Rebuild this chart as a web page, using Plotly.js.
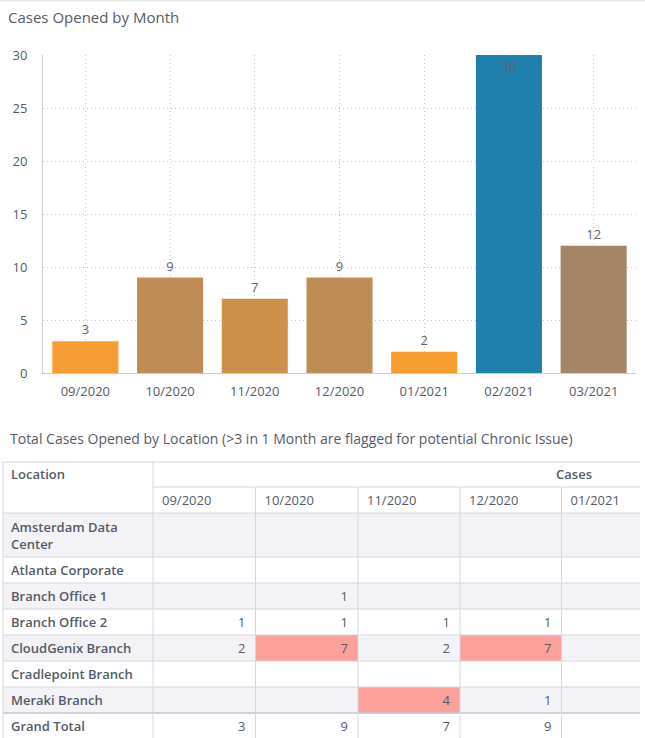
<!DOCTYPE html>
<html><head><meta charset="utf-8">
<script src="https://cdn.plot.ly/plotly-3.0.1.min.js"></script>
<style>html,body{margin:0;padding:0;background:#fff}#chart{width:645px;height:738px}</style>
</head><body><div id="chart"></div>
<script>
// ---------- data: bar chart ----------
const months = ['09/2020','10/2020','11/2020','12/2020','01/2021','02/2021','03/2021'];
const caseCounts = [3, 9, 7, 9, 2, 30, 12];
const barColors = ['#f59c33','#c08c55','#cc914b','#c08c55','#f89c2c','#1f80b0','#a48566'];

// ---------- data: table ----------
const tableMonths = ['09/2020','10/2020','11/2020','12/2020','01/2021'];
const locations = ['Amsterdam Data<br>Center','Atlanta Corporate','Branch Office 1','Branch Office 2','CloudGenix Branch','Cradlepoint Branch','Meraki Branch'];
const amsterdamCases   = [null, null, null, null, null];
const atlantaCases     = [null, null, null, null, null];
const branch1Cases     = [null, 1, null, null, null];
const branch2Cases     = [1, 1, 1, 1, null];
const cloudgenixCases  = [2, 7, 2, 7, null];
const cradlepointCases = [null, null, null, null, null];
const merakiCases      = [null, null, 4, 1, null];
const grandTotal       = [3, 9, 7, 9, null];
const flagThreshold = 3;

// ---------- layout geometry (pixels) ----------
const W = 645, H = 738;
const plotL = 43, plotR = 636, plotT = 55, plotB = 373;
const yMax = 30;
const colEdges = [3, 153, 255.5, 358, 460, 561.5, 664];
const headTop = 462, headMid = 487, headBot = 513;
const bodyRowHeights = [44, 26, 26, 26, 26, 26, 26, 26];
const tabTop = 455, clipR = 640;
const textDy = 2;
const insideLabelPx = 13;

const textCol = '#555b66';
const lineCol = '#d6d6de';
const stripe = '#f2f2f7';
const flagCol = '#fca09c';
const gridCol = '#c4c4c4';

// ---------- bar traces ----------
const maxV = Math.max(...caseCounts);
const isTop = caseCounts.map(v => v >= maxV * 0.95);
const unitsPerPx = yMax / (plotB - plotT);
const barTrace = {
  type: 'bar', x: months, y: caseCounts,
  marker: {color: barColors},
  text: caseCounts.map((v, i) => isTop[i] ? '' : String(v)),
  textposition: 'outside',
  textfont: {family: 'Open Sans', size: 13, color: '#666'},
  constraintext: 'none', cliponaxis: false,
  hoverinfo: 'none', xaxis: 'x', yaxis: 'y'
};
const topLabelTrace = {
  type: 'scatter', mode: 'text', xaxis: 'x', yaxis: 'y',
  x: months.filter((_, i) => isTop[i]),
  y: caseCounts.filter((_, i) => isTop[i]).map(v => v - insideLabelPx * unitsPerPx),
  text: caseCounts.filter((_, i) => isTop[i]).map(String),
  textposition: 'middle center',
  textfont: {family: 'Open Sans', size: 13, color: '#5a6470'},
  hoverinfo: 'none', cliponaxis: false
};

// ---------- table construction ----------
const rows = [amsterdamCases, atlantaCases, branch1Cases, branch2Cases, cloudgenixCases, cradlepointCases, merakiCases];
const allRows = rows.concat([grandTotal]);
const rowLabels = locations.concat(['Grand Total']);
const rowEdges = [headBot];
bodyRowHeights.forEach(h => rowEdges.push(rowEdges[rowEdges.length - 1] + h));
const tabR = colEdges[colEdges.length - 1];
const tabB = rowEdges[rowEdges.length - 1];

const shapes = [];
const S = (o) => Object.assign({xref: 'x2', yref: 'y2', layer: 'below'}, o);
allRows.forEach((r, i) => {
  if (i % 2 === 0 && i < allRows.length - 1) {
    shapes.push(S({type: 'rect', x0: colEdges[0], x1: tabR, y0: rowEdges[i], y1: rowEdges[i + 1], fillcolor: stripe, line: {width: 0}}));
  }
});
allRows.forEach((r, i) => {
  if (i === allRows.length - 1) return;
  r.forEach((v, j) => {
    if (v !== null && v > flagThreshold) {
      shapes.push(S({type: 'rect', x0: colEdges[j + 1], x1: colEdges[j + 2], y0: rowEdges[i], y1: rowEdges[i + 1], fillcolor: flagCol, line: {width: 0}}));
    }
  });
});
const hline = (y, x0, x1, col, w) => shapes.push(S({type: 'line', x0: x0, x1: x1, y0: y, y1: y, line: {color: col || lineCol, width: w || 1}, layer: 'above'}));
hline(headTop, colEdges[0], tabR);
hline(headMid, colEdges[1], tabR);
hline(headBot, colEdges[0], tabR);
rowEdges.slice(1, -1).forEach((y, k) => {
  if (k === rowEdges.length - 3) hline(y, colEdges[0], tabR, '#c4c4cc', 1.5);
  else hline(y, colEdges[0], tabR);
});
colEdges.forEach((x, j) => {
  const y0 = j <= 1 ? headTop : headMid;
  shapes.push(S({type: 'line', x0: x, x1: x, y0: y0, y1: tabB, line: {color: lineCol, width: 1}, layer: 'above'}));
});

const mid = (i) => (rowEdges[i] + rowEdges[i + 1]) / 2 + textDy;
const labelTrace = {
  type: 'scatter', mode: 'text', xaxis: 'x2', yaxis: 'y2',
  x: rowLabels.map(() => colEdges[0] + 8), y: rowLabels.map((_, i) => mid(i)),
  text: rowLabels, textposition: 'middle right',
  textfont: {family: 'Open Sans', size: 13, color: textCol, weight: 600},
  hoverinfo: 'none', cliponaxis: true
};
const vx = [], vy = [], vt = [];
allRows.forEach((r, i) => r.forEach((v, j) => {
  if (v !== null) { vx.push(colEdges[j + 2] - 10); vy.push(mid(i)); vt.push(String(v)); }
}));
const valueTrace = {
  type: 'scatter', mode: 'text', xaxis: 'x2', yaxis: 'y2',
  x: vx, y: vy, text: vt, textposition: 'middle left',
  textfont: {family: 'Open Sans', size: 13, color: textCol},
  hoverinfo: 'none', cliponaxis: true
};
const headTrace = {
  type: 'scatter', mode: 'text', xaxis: 'x2', yaxis: 'y2',
  x: tableMonths.map((_, j) => colEdges[j + 1] + 9), y: tableMonths.map(() => (headMid + headBot) / 2 + textDy),
  text: tableMonths, textposition: 'middle right',
  textfont: {family: 'Open Sans', size: 13, color: textCol},
  hoverinfo: 'none', cliponaxis: true
};
const headBoldTrace = {
  type: 'scatter', mode: 'text', xaxis: 'x2', yaxis: 'y2',
  x: [colEdges[0] + 8, 592], y: [(headTop + headMid) / 2 + textDy - 0.5, (headTop + headMid) / 2 + textDy - 0.5],
  text: ['Location', 'Cases'], textposition: ['middle right', 'middle left'],
  textfont: {family: 'Open Sans', size: 13, color: textCol, weight: 600},
  hoverinfo: 'none', cliponaxis: true
};

shapes.push({type: 'line', xref: 'paper', yref: 'paper', x0: 0, x1: 1, y0: 1 - 0.5 / H, y1: 1 - 0.5 / H, line: {color: '#e8e8e8', width: 1.5}});

const layout = {
  width: W, height: H,
  margin: {l: 0, r: 0, t: 0, b: 0},
  paper_bgcolor: '#fff', plot_bgcolor: 'rgba(0,0,0,0)',
  showlegend: false,
  font: {family: 'Open Sans', size: 13, color: textCol},
  title: {text: 'Cases Opened by Month', x: 8 / W, xanchor: 'left', y: 1 - 18 / H, yanchor: 'middle',
          font: {family: 'Open Sans', size: 15, color: textCol}},
  bargap: 0.22,
  xaxis: {domain: [plotL / W, plotR / W], type: 'category', anchor: 'y',
          showgrid: true, gridcolor: gridCol, griddash: '1px,3px', gridwidth: 1,
          showline: true, linecolor: '#cccccc', linewidth: 1, ticks: '',
          tickfont: {family: 'Open Sans', size: 13, color: textCol}, ticklabelstandoff: 6, fixedrange: true},
  yaxis: {domain: [1 - plotB / H, 1 - plotT / H], range: [0, yMax], dtick: 5, anchor: 'x',
          showgrid: true, gridcolor: gridCol, griddash: '1px,3px', gridwidth: 1, zeroline: false,
          showline: true, linecolor: '#cccccc', linewidth: 1, ticks: '',
          tickfont: {family: 'Open Sans', size: 13, color: textCol}, ticklabelstandoff: 12, fixedrange: true},
  xaxis2: {domain: [0, clipR / W], range: [0, clipR], anchor: 'y2', visible: false, fixedrange: true},
  yaxis2: {domain: [0, (H - tabTop) / H], range: [H, tabTop], anchor: 'x2', visible: false, fixedrange: true},
  shapes: shapes,
  annotations: [{
    text: 'Total Cases Opened by Location (>3 in 1 Month are flagged for potential Chronic Issue)',
    xref: 'paper', yref: 'paper', x: 8 / W, y: 1 - 438 / H, xanchor: 'left', yanchor: 'middle',
    showarrow: false, font: {family: 'Open Sans', size: 14, color: textCol}
  }]
};

Plotly.newPlot('chart', [barTrace, topLabelTrace, labelTrace, valueTrace, headTrace, headBoldTrace], layout, {displayModeBar: false, staticPlot: true});
</script>
</body></html>
